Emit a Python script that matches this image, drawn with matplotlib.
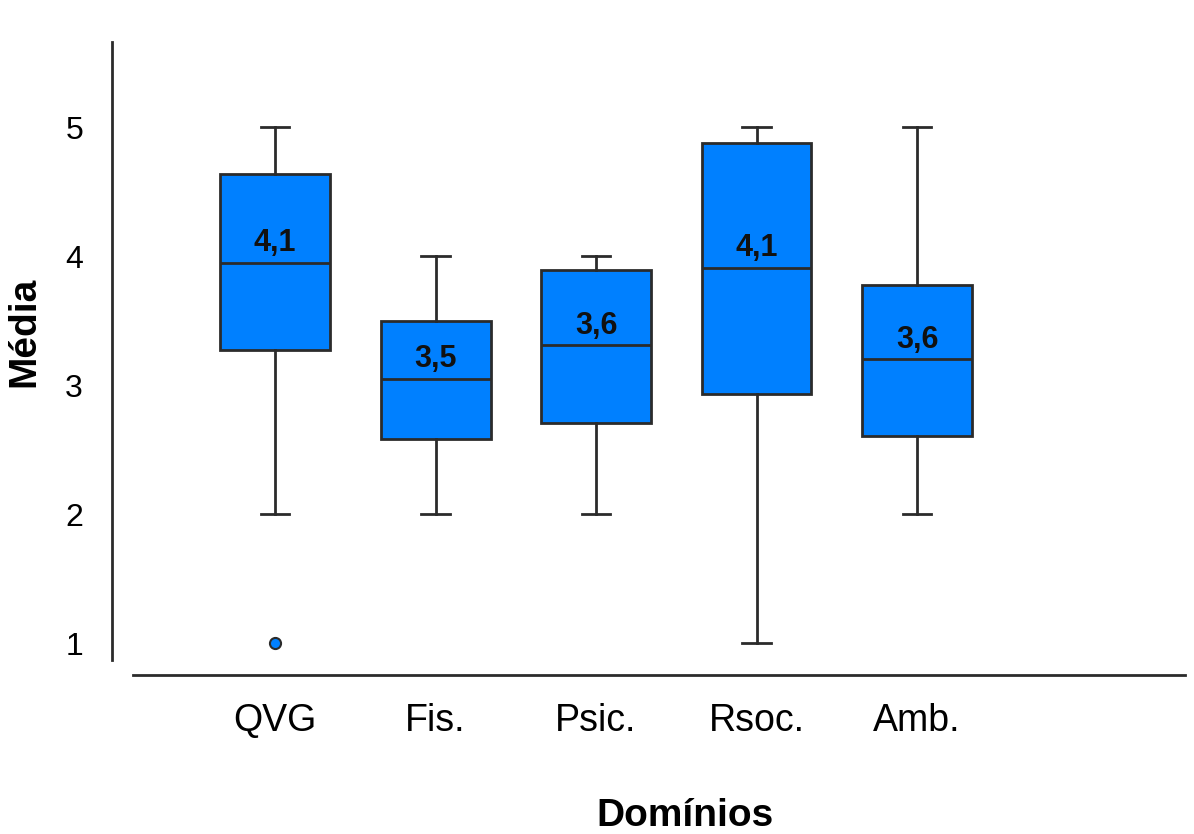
import matplotlib
matplotlib.use("Agg")
import matplotlib.pyplot as plt

plt.rcParams['font.family'] = ['Liberation Sans', 'DejaVu Sans']

# dominios e estatisticas
dominios = ["QVG", "Fis.", "Psic.", "Rsoc.", "Amb."]
medianas = [3.95, 3.05, 3.31, 3.91, 3.20]
q1 = [3.27, 2.58, 2.71, 2.93, 2.61]
q3 = [4.64, 3.50, 3.89, 4.88, 3.78]
whis_min = [2.0, 2.0, 2.0, 1.0, 2.0]
whis_max = [5.0, 4.0, 4.0, 5.0, 5.0]
outliers = [[1.0], [], [], [], []]
medias = ["4,1", "3,5", "3,6", "4,1", "3,6"]

stats = []
for i, nome in enumerate(dominios):
    stats.append({
        "label": nome, "med": medianas[i], "q1": q1[i], "q3": q3[i],
        "whislo": whis_min[i], "whishi": whis_max[i], "fliers": outliers[i],
    })

fig = plt.figure(figsize=(11.94, 8.34), dpi=100)
ax = fig.add_axes([0.1114, 0.2086, 0.8811, 0.741])

cor_linha = "#2b2b2b"
posicoes = list(range(1, len(dominios) + 1))
ax.bxp(stats, positions=posicoes, widths=0.685, patch_artist=True,
       boxprops=dict(facecolor="#0080ff", edgecolor=cor_linha, linewidth=2.0),
       medianprops=dict(color=cor_linha, linewidth=2.0),
       whiskerprops=dict(color=cor_linha, linewidth=2.0),
       capprops=dict(color=cor_linha, linewidth=2.0),
       capwidths=0.175,
       flierprops=dict(marker="o", markerfacecolor="#0080ff",
                       markeredgecolor=cor_linha, markersize=8, markeredgewidth=1.5))

# valores das medias acima da mediana
for x, m, txt in zip(posicoes, medianas, medias):
    ax.annotate(txt, (x, m), xytext=(0, 14), textcoords="offset points",
                ha="center", va="center", fontsize=22, fontweight="bold", color="#111111")

ax.set_xlim(0.115, 6.67)
ax.set_ylim(0.87, 5.66)
ax.set_yticks([1, 2, 3, 4, 5])
ax.set_xticks(posicoes)
ax.set_xticklabels(dominios)

for s in ["top", "right"]:
    ax.spines[s].set_visible(False)
ax.spines["left"].set_position(("outward", 15))
ax.spines["bottom"].set_position(("outward", 11))
for s in ["left", "bottom"]:
    ax.spines[s].set_linewidth(2.0)
    ax.spines[s].set_color(cor_linha)

ax.tick_params(axis="y", length=0, pad=21, labelsize=23)
ax.tick_params(axis="x", length=0, pad=20, labelsize=27)
for lbl in ax.get_xticklabels():
    lbl.set_x(lbl.get_position()[0])

ax.set_ylabel("Média", fontsize=28, fontweight="bold")
ax.set_xlabel("Domínios", fontsize=28, fontweight="bold")
ax.yaxis.set_label_coords(-0.0865, 0.531)
ax.xaxis.set_label_coords(0.5247, -0.224)

fig.savefig("out.png", dpi=100)
